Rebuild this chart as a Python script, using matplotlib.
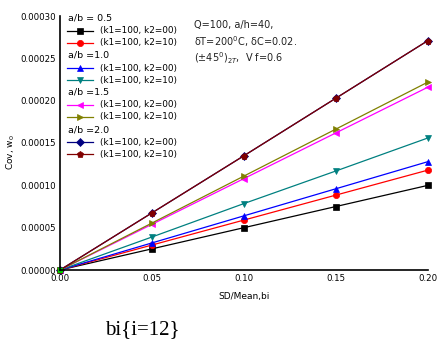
import matplotlib
matplotlib.use("Agg")
import matplotlib.pyplot as plt
from matplotlib.lines import Line2D
import numpy as np

x = [0.0, 0.05, 0.10, 0.15, 0.20]
ab05_k00 = [0.0, 0.000025, 0.000050, 0.000075, 0.000100]
ab05_k10 = [0.0, 0.0000295, 0.000059, 0.0000885, 0.000118]
ab10_k00 = [0.0, 0.000032, 0.000064, 0.000096, 0.000128]
ab10_k10 = [0.0, 0.000039, 0.0000785, 0.000117, 0.000156]
ab15_k00 = [0.0, 0.000054, 0.000108, 0.000162, 0.000216]
ab15_k10 = [0.0, 0.0000555, 0.000111, 0.0001665, 0.000222]
ab20_k00 = [0.0, 0.0000675, 0.000135, 0.000203, 0.000271]
ab20_k10 = [0.0, 0.0000675, 0.000135, 0.000203, 0.000271]

groups = ["a/b = 0.5", "a/b =1.0", "a/b =1.5", "a/b =2.0"]
labels = ["(k1=100, k2=00)", "(k1=100, k2=10)"]
xticks = [0.0, 0.05, 0.10, 0.15, 0.20]
yticks = [0.0, 0.00005, 0.00010, 0.00015, 0.00020, 0.00025, 0.00030]

series = [
    (ab05_k00, "black", "s"),
    (ab05_k10, "#ff0000", "o"),
    (ab10_k00, "#0000ff", "^"),
    (ab10_k10, "#008080", "v"),
    (ab15_k00, "#ff00ff", "<"),
    (ab15_k10, "#808000", ">"),
    (ab20_k00, "#000080", "D"),
    (ab20_k10, "#800000", "p"),
]

fig = plt.figure(figsize=(4.46, 3.54), dpi=100)
ax = fig.add_axes([60/446, 84/354, 368/446, 254/354])
for ys, c, m in series:
    ax.plot(x, ys, color=c, marker=m, lw=0.9, ms=4.5 if m != "D" else 3.8,
            markeredgewidth=0.5, clip_on=False)
ax.plot([0], [0], marker="s", color="#00cc00", ms=3, clip_on=False)

ax.set_xlim(0, 0.2)
ax.set_ylim(0, 0.0003)
ax.set_xticks(xticks)
ax.set_yticks(yticks)
ax.set_xticklabels([f"{v:.2f}" for v in xticks])
ax.set_yticklabels([f"{v:.5f}" for v in yticks])
ax.tick_params(length=0, labelsize=6.2, pad=3)
for s in ["top", "right"]:
    ax.spines[s].set_visible(False)
ax.spines["left"].set_linewidth(1.2)
ax.spines["bottom"].set_linewidth(1.2)

ax.set_xlabel("SD/Mean,bi", fontsize=6.5, labelpad=6)
fig.text(11/446, 1 - 152/354, "Cov, w$_0$", rotation=90, fontsize=6.5,
         ha="center", va="center")

# legend (manual)
def px(xp, yp):
    return (xp / 446, 1 - yp / 354)

rowy = [18, 31, 43, 55, 68, 80, 92, 105, 117, 130, 142, 154]
i = 0
k = 0
for g in range(4):
    fig.text(*px(68, rowy[i]), groups[g], fontsize=6.8, va="center", ha="left")
    i += 1
    for j in range(2):
        ys, c, m = series[k]
        x0, y0 = px(67, rowy[i])
        x1, _ = px(93, rowy[i])
        fig.add_artist(Line2D([x0, x1], [y0, y0], color=c, lw=0.9,
                              transform=fig.transFigure))
        fig.add_artist(Line2D([(x0 + x1) / 2], [y0], color=c, marker=m,
                              ms=4.5 if m != "D" else 3.8, markeredgewidth=0.5,
                              transform=fig.transFigure))
        fig.text(*px(100, rowy[i]), labels[j], fontsize=6.4, va="center", ha="left")
        i += 1
        k += 1

fig.text(*px(194, 25), "Q=100, a/h=40,", fontsize=7, va="center", color="#222222")
fig.text(*px(194, 42), "δT=200$^0$C, δC=0.02.", fontsize=7, va="center", color="#222222")
fig.text(*px(194, 58), "(±45$^0$)$_{2T}$,  V f=0.6", fontsize=7, va="center", color="#222222")

fig.text(*px(105, 330), "bi{i=12}", fontsize=15, family="Liberation Serif",
         va="center", ha="left")

fig.savefig("out.png", dpi=100)
